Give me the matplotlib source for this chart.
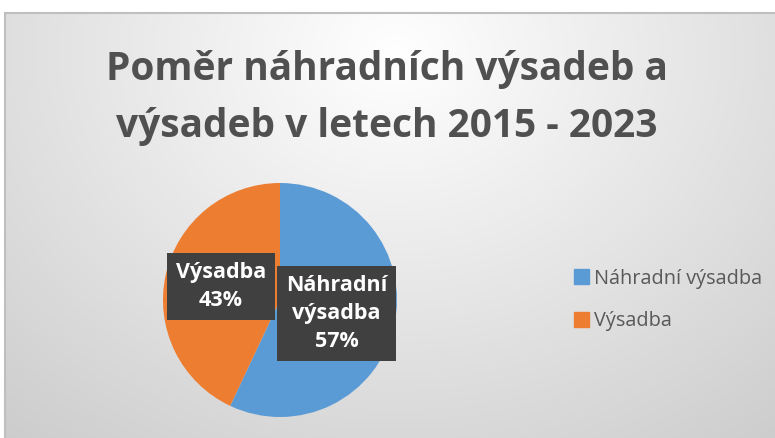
import numpy as np
import matplotlib
matplotlib.use("Agg")
import matplotlib.pyplot as plt
from matplotlib.patches import Rectangle

categories = ["Náhradní výsadba", "Výsadba"]
values = [57, 43]
colors = ["#5B9BD5", "#ED7D31"]
title = "Poměr náhradních výsadeb a\nvýsadeb v letech 2015 - 2023"

W, H = 775, 438
fig = plt.figure(figsize=(W / 100, H / 100), dpi=100)
fig.patch.set_facecolor("white")

# background with radial gradient
bg = fig.add_axes([5 / W, 0, 1 - 5 / W, (H - 13) / H])
bg.set_axis_off()
yy, xx = np.mgrid[0:425, 0:770]
d = np.sqrt(((xx - 390) / 520.0) ** 2 + ((yy - 40) / 430.0) ** 2)
v = 1.0 - 0.17 * np.clip(d, 0, 1.2) / 1.0
v = np.clip(v, 0.80, 1.0)
img = np.dstack([v, v, v])
bg.imshow(img, extent=[0, 1, 0, 1], aspect="auto", origin="upper")
bg.set_xlim(0, 1)
bg.set_ylim(0, 1)
fig.add_artist(plt.Line2D([5 / W, 5 / W], [0, (H - 13) / H], color="#bfbfbf", lw=1.5))
fig.add_artist(plt.Line2D([5 / W, 1], [(H - 13) / H, (H - 13) / H], color="#bfbfbf", lw=1.5))

fig.text(387 / W, 1 - 98 / H, title, ha="center", va="center",
         fontsize=28, fontweight="bold", color="#505050",
         family=["Open Sans", "DejaVu Sans"], linespacing=1.58)

cx, cy, r = 280, H - 300, 117
ax = fig.add_axes([(cx - r) / W, (cy - r) / H, 2 * r / W, 2 * r / H])
wedges, _ = ax.pie(values, colors=colors, startangle=90, counterclock=False,
                   radius=1.0, wedgeprops=dict(linewidth=0))
ax.set_xlim(-1, 1)
ax.set_ylim(-1, 1)
ax.set_aspect("equal")

lab_pos = [(0.483, -0.115), (-0.504, 0.115)]
lab_txt = [f"Náhradní\nvýsadba\n{values[0]}%", f"Výsadba\n{values[1]}%"]
for (x, y), t in zip(lab_pos, lab_txt):
    ax.text(x, y, t, ha="center", va="center", fontsize=15.5, fontweight="bold",
            color="white", family=["Open Sans", "DejaVu Sans"], linespacing=1.45,
            bbox=dict(boxstyle="square,pad=0.4", facecolor="#404040",
                      edgecolor="none"))

# legend
leg = fig.legend(handles=[Rectangle((0, 0), 1, 1, color=c) for c in colors],
                 labels=categories, loc="center left",
                 bbox_to_anchor=(556 / W, 1 - 300 / H), frameon=False,
                 handlelength=0.75, handleheight=0.75,
                 handletextpad=0.25, labelspacing=1.15,
                 prop=dict(family=["Open Sans", "DejaVu Sans"], size=14.3))
for t in leg.get_texts():
    t.set_color("#595959")

fig.savefig("out.png", dpi=100)
